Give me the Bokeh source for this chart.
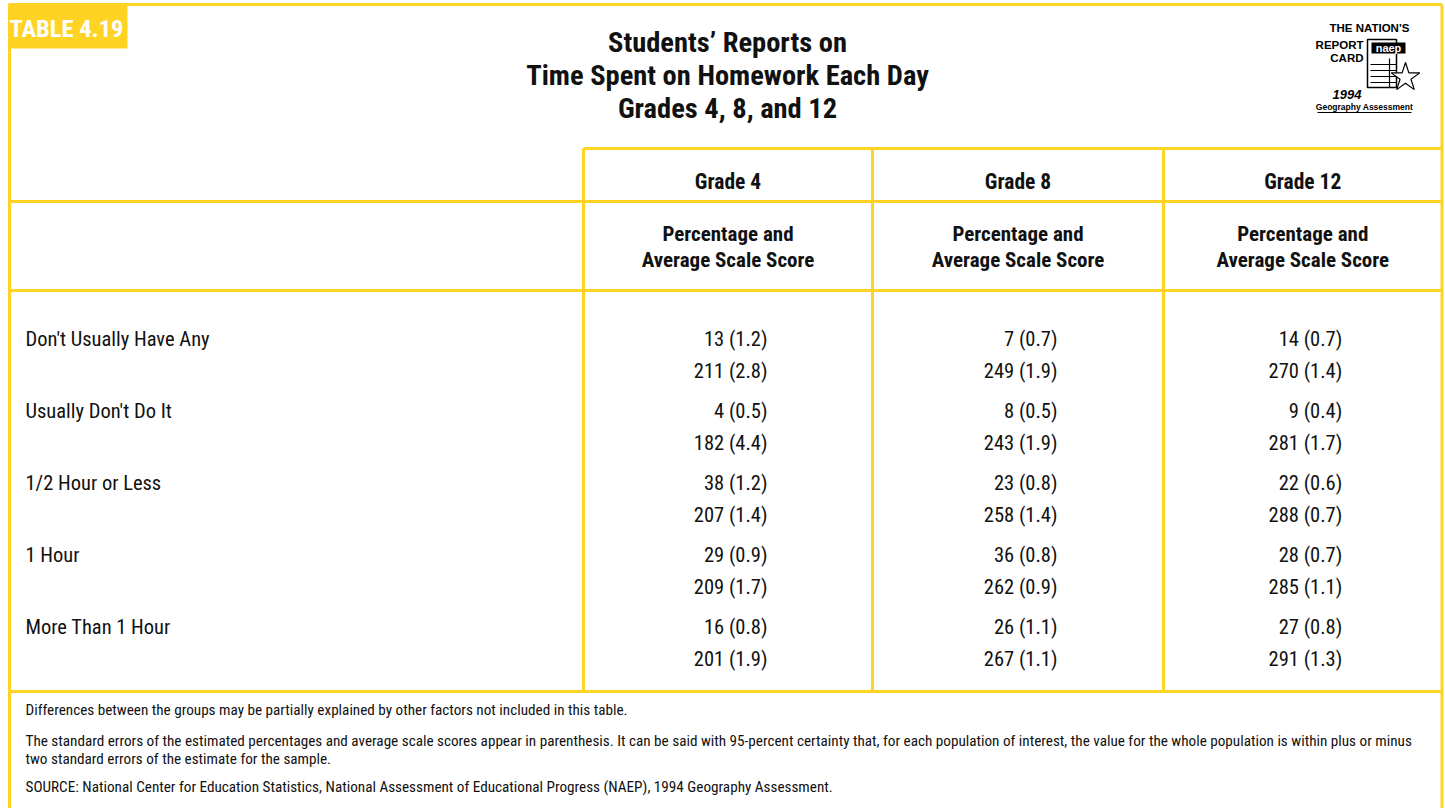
from bokeh.plotting import figure
from bokeh.models import Range1d
from bokeh.core.properties import value
from bokeh.embed import file_html
from bokeh.resources import INLINE

# ---------------- data ----------------
table_label = "TABLE 4.19"
title_lines = ["Students’ Reports on", "Time Spent on Homework Each Day", "Grades 4, 8, and 12"]
grades = ["Grade 4", "Grade 8", "Grade 12"]
subheader = ["Percentage and", "Average Scale Score"]
categories = ["Don't Usually Have Any", "Usually Don't Do It", "1/2 Hour or Less", "1 Hour", "More Than 1 Hour"]

g4_pct = [13, 4, 38, 29, 16]
g4_pct_se = [1.2, 0.5, 1.2, 0.9, 0.8]
g4_score = [211, 182, 207, 209, 201]
g4_score_se = [2.8, 4.4, 1.4, 1.7, 1.9]

g8_pct = [7, 8, 23, 36, 26]
g8_pct_se = [0.7, 0.5, 0.8, 0.8, 1.1]
g8_score = [249, 243, 258, 262, 267]
g8_score_se = [1.9, 1.9, 1.4, 0.9, 1.1]

g12_pct = [14, 9, 22, 28, 27]
g12_pct_se = [0.7, 0.4, 0.6, 0.7, 0.8]
g12_score = [270, 281, 288, 285, 291]
g12_score_se = [1.4, 1.7, 0.7, 1.1, 1.3]

footnotes = [
    "Differences between the groups may be partially explained by other factors not included in this table.",
    "The standard errors of the estimated percentages and average scale scores appear in parenthesis. It can be said with 95-percent certainty that, for each population of interest, the value for the whole population is within plus or minus",
    "two standard errors of the estimate for the sample.",
    "SOURCE: National Center for Education Statistics, National Assessment of Educational Progress (NAEP), 1994 Geography Assessment.",
]

# ---------------- layout ----------------
FONT = "Roboto Condensed, DejaVu Sans Condensed, Roboto"
YEL = "#FFD324"
INK = "#111111"
W, H = 1445, 808

p = figure(width=W, height=H, x_range=Range1d(0, W), y_range=Range1d(H, 0),
           output_backend="svg", toolbar_location=None, min_border=0,
           x_axis_location=None, y_axis_location=None)
p.grid.visible = False
p.outline_line_color = None
p.background_fill_color = "white"
p.border_fill_color = "white"

LEFT, RIGHT, TOP, BOTTOM = 9, 1441.5, 4, 830
COLX = [583, 872, 1163, RIGHT]
Y_HEAD_TOP, Y_HEAD_MID, Y_HEAD_BOT, Y_FOOT = 148, 201, 290, 691

# borders and grid lines
p.segment(x0=[LEFT, RIGHT, LEFT], y0=[TOP, TOP, TOP], x1=[RIGHT, RIGHT, LEFT], y1=[TOP, BOTTOM, BOTTOM],
          line_color=YEL, line_width=3)
p.segment(x0=[COLX[0], LEFT, LEFT, LEFT], y0=[Y_HEAD_TOP, Y_HEAD_MID, Y_HEAD_BOT, Y_FOOT],
          x1=[RIGHT] * 4, y1=[Y_HEAD_TOP, Y_HEAD_MID, Y_HEAD_BOT, Y_FOOT],
          line_color=YEL, line_width=3)
p.segment(x0=COLX[:3], y0=[Y_HEAD_TOP] * 3, x1=COLX[:3], y1=[Y_FOOT] * 3,
          line_color=YEL, line_width=3)

# table label
p.quad(left=[7.5], right=[127], top=[3], bottom=[48], fill_color=YEL, line_color=None)
p.text(x=[66], y=[28], text=[table_label], text_color="white", text_font=value(FONT),
       text_font_style="bold", text_font_size="24.5px", text_align="center", text_baseline="middle")

# title
p.text(x=[727] * 3, y=[42, 75, 108], text=title_lines, text_color=INK, text_font=value(FONT),
       text_font_style="bold", text_font_size="28.5px", text_align="center", text_baseline="middle")

# column headers
centers = [(COLX[i] + COLX[i + 1]) / 2 for i in range(3)]
p.text(x=centers, y=[181] * 3, text=grades, text_color=INK, text_font=value(FONT),
       text_font_style="bold", text_font_size="21.5px", text_align="center", text_baseline="middle")
p.text(x=centers * 2, y=[233] * 3 + [259] * 3, text=[subheader[0]] * 3 + [subheader[1]] * 3,
       text_color=INK, text_font=value(FONT), text_font_style="bold", text_font_size="21px",
       text_align="center", text_baseline="middle")

# rows
ROW0, ROWSTEP, SUB = 338, 72.2, 32
row_y = [ROW0 + i * ROWSTEP for i in range(len(categories))]
p.text(x=[25] * len(categories), y=row_y, text=categories, text_color=INK, text_font=value(FONT),
       text_font_size="20.5px", text_align="left", text_baseline="middle")

series = [(g4_pct, g4_pct_se, g4_score, g4_score_se),
          (g8_pct, g8_pct_se, g8_score, g8_score_se),
          (g12_pct, g12_pct_se, g12_score, g12_score_se)]
for c, (pct, pse, sc, sse) in zip(centers, series):
    xs = [c + 39.5] * len(categories)
    p.text(x=xs, y=row_y, text=[f"{a} ({b:.1f})" for a, b in zip(pct, pse)], text_color=INK,
           text_font=value(FONT), text_font_size="20.5px", text_align="right", text_baseline="middle")
    p.text(x=xs, y=[y + SUB for y in row_y], text=[f"{a} ({b:.1f})" for a, b in zip(sc, sse)],
           text_color=INK, text_font=value(FONT), text_font_size="20.5px", text_align="right",
           text_baseline="middle")

# footnotes
p.text(x=[25] * 4, y=[709, 740, 758, 786], text=footnotes, text_color=INK, text_font=value(FONT),
       text_font_size="15.2px", text_align="left", text_baseline="middle")

# logo (The Nation's Report Card)
LF = "Liberation Sans"
p.text(x=[1412], y=[27], text=["THE  NATION'S"], text_font=value(LF), text_font_style="bold",
       text_font_size="11.5px", text_align="right", text_baseline="middle", text_color="black")
p.text(x=[1363, 1363], y=[44, 57], text=["REPORT", "CARD"], text_font=value(LF), text_font_style="bold",
       text_font_size="11.5px", text_align="right", text_baseline="middle", text_color="black")
p.quad(left=[1367], right=[1396], top=[39], bottom=[87], fill_color="white", line_color="black", line_width=1.5)
p.quad(left=[1371], right=[1405], top=[42], bottom=[53], fill_color="black", line_color=None)
p.text(x=[1388], y=[47.5], text=["naep"], text_font=value(LF), text_font_style="bold",
       text_font_size="11px", text_align="center", text_baseline="middle", text_color="white")
p.segment(x0=[1370] * 4, y0=[64, 70, 76, 82], x1=[1396] * 4, y1=[64, 70, 76, 82], line_color="black", line_width=1.2)
p.segment(x0=[1389], y0=[58], x1=[1389], y1=[87], line_color="black", line_width=1.2)
p.scatter(x=[1405], y=[77], marker="star", size=30, fill_color="white", line_color="black", line_width=1.2)
p.text(x=[1361], y=[94], text=["1994"], text_font=value(LF), text_font_style="bold italic",
       text_font_size="13px", text_align="right", text_baseline="middle", text_color="black")
p.text(x=[1364], y=[106], text=["Geography Assessment"], text_font=value(LF), text_font_style="bold",
       text_font_size="8.5px", text_align="center", text_baseline="middle", text_color="black")
p.segment(x0=[1317], y0=[112], x1=[1411], y1=[112], line_color="black", line_width=1.2)

open("out.html", "w").write(file_html(p, INLINE))
